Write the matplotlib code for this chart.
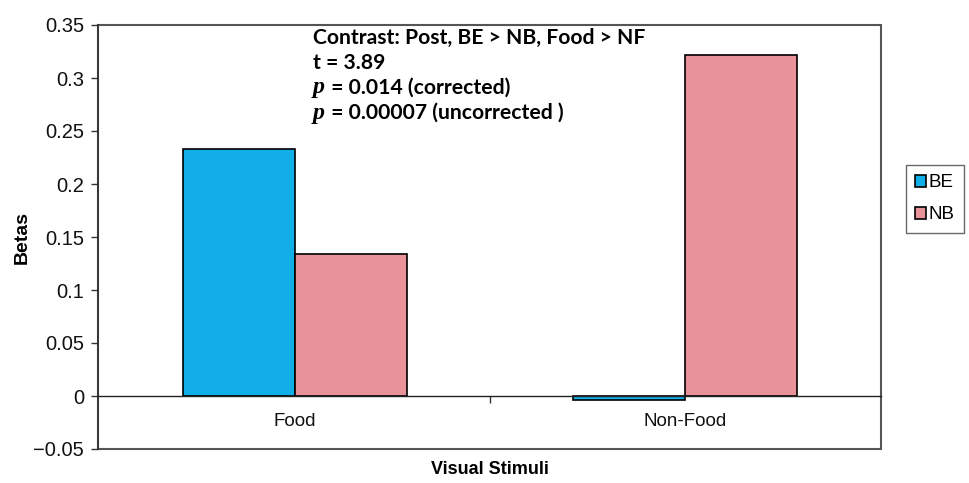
import matplotlib
matplotlib.use("Agg")
import matplotlib.pyplot as plt
from matplotlib.patches import Rectangle
import numpy as np

categories = ["Food", "Non-Food"]
series_names = ["BE", "NB"]
be_values = [0.233, -0.004]
nb_values = [0.134, 0.322]
yticks = [-0.05, 0, 0.05, 0.1, 0.15, 0.2, 0.25, 0.3, 0.35]
ytick_labels = ["\u22120.05", "0", "0.05", "0.1", "0.15", "0.2", "0.25", "0.3", "0.35"]
annot_lines = ["Contrast: Post, BE > NB, Food > NF", "t = 3.89"]
p_lines = [" = 0.014 (corrected)", " = 0.00007 (uncorrected )"]

BE_COLOR = "#12AEE8"
NB_COLOR = "#E8929A"

fig = plt.figure(figsize=(9.7, 4.83), dpi=100)
ax = fig.add_axes([98/970, 1-449/483, (881-98)/970, (449-25)/483])

x = np.arange(len(categories))
w = 0.287
ax.bar(x - w/2, be_values, width=w, color=BE_COLOR, edgecolor="black", linewidth=1.2, label=series_names[0])
ax.bar(x + w/2, nb_values, width=w, color=NB_COLOR, edgecolor="black", linewidth=1.2, label=series_names[1])

ax.set_xlim(-0.505, 1.503)
ax.set_ylim(-0.05, 0.35)

for s in ["top", "right"]:
    ax.spines[s].set_visible(False)
ax.spines["left"].set_color("#333333")
ax.spines["left"].set_linewidth(1.2)
ax.spines["bottom"].set_position(("data", 0))
ax.spines["bottom"].set_color("#222222")
ax.spines["bottom"].set_linewidth(1.0)

# plot-area frame
ax.add_patch(Rectangle((0, 0), 1, 1, transform=ax.transAxes, fill=False,
                       edgecolor="#555555", linewidth=1.5, clip_on=False, zorder=0))

ax.set_yticks(yticks)
ax.set_yticklabels(ytick_labels, fontsize=14.5, family="Liberation Sans", color="#111111")
ax.tick_params(axis="y", direction="out", length=5, width=1, color="#333333", pad=5)

ax.set_xticks(x)
ax.set_xticklabels(categories, fontsize=13.5, family="Liberation Sans", color="#111111")
ax.set_xticks([0.5], minor=True)
ax.tick_params(axis="x", which="major", length=0, pad=12)
ax.tick_params(axis="x", which="minor", length=5, width=1, direction="out", color="#333333")

ax.set_ylabel("Betas", fontsize=14, fontweight="bold", family="Liberation Sans", labelpad=2)
fig.text((98+881)/2/970, 1-470/483, "Visual Stimuli", ha="center", va="center",
         fontsize=13, fontweight="bold", family="Liberation Sans")

# annotation text
x0 = 313/970
ys = [38, 63, 88, 113]
fs = 15.2
for i, line in enumerate(annot_lines):
    fig.text(x0, 1-ys[i]/483, line, ha="left", va="center", fontsize=fs,
             fontweight="bold", family="Lato")
for j, line in enumerate(p_lines):
    yy = 1-ys[j+2]/483
    fig.text(x0, yy, "p", ha="left", va="center", fontsize=fs+2, fontstyle="italic",
             fontweight="bold", family="Liberation Serif")
    fig.text(x0 + 13/970, yy, line, ha="left", va="center", fontsize=fs,
             fontweight="bold", family="Lato")

leg = ax.legend(loc="center", bbox_to_anchor=(935/970, 1-199/483), bbox_transform=fig.transFigure,
                frameon=True, fancybox=False, edgecolor="#444444",
                prop={"family": "Liberation Sans", "size": 13.5},
                handlelength=0.55, handleheight=0.55, handletextpad=0.15, borderpad=0.5,
                labelspacing=0.8, borderaxespad=0)
leg.get_frame().set_linewidth(1.0)

fig.savefig("out.png", dpi=100)
